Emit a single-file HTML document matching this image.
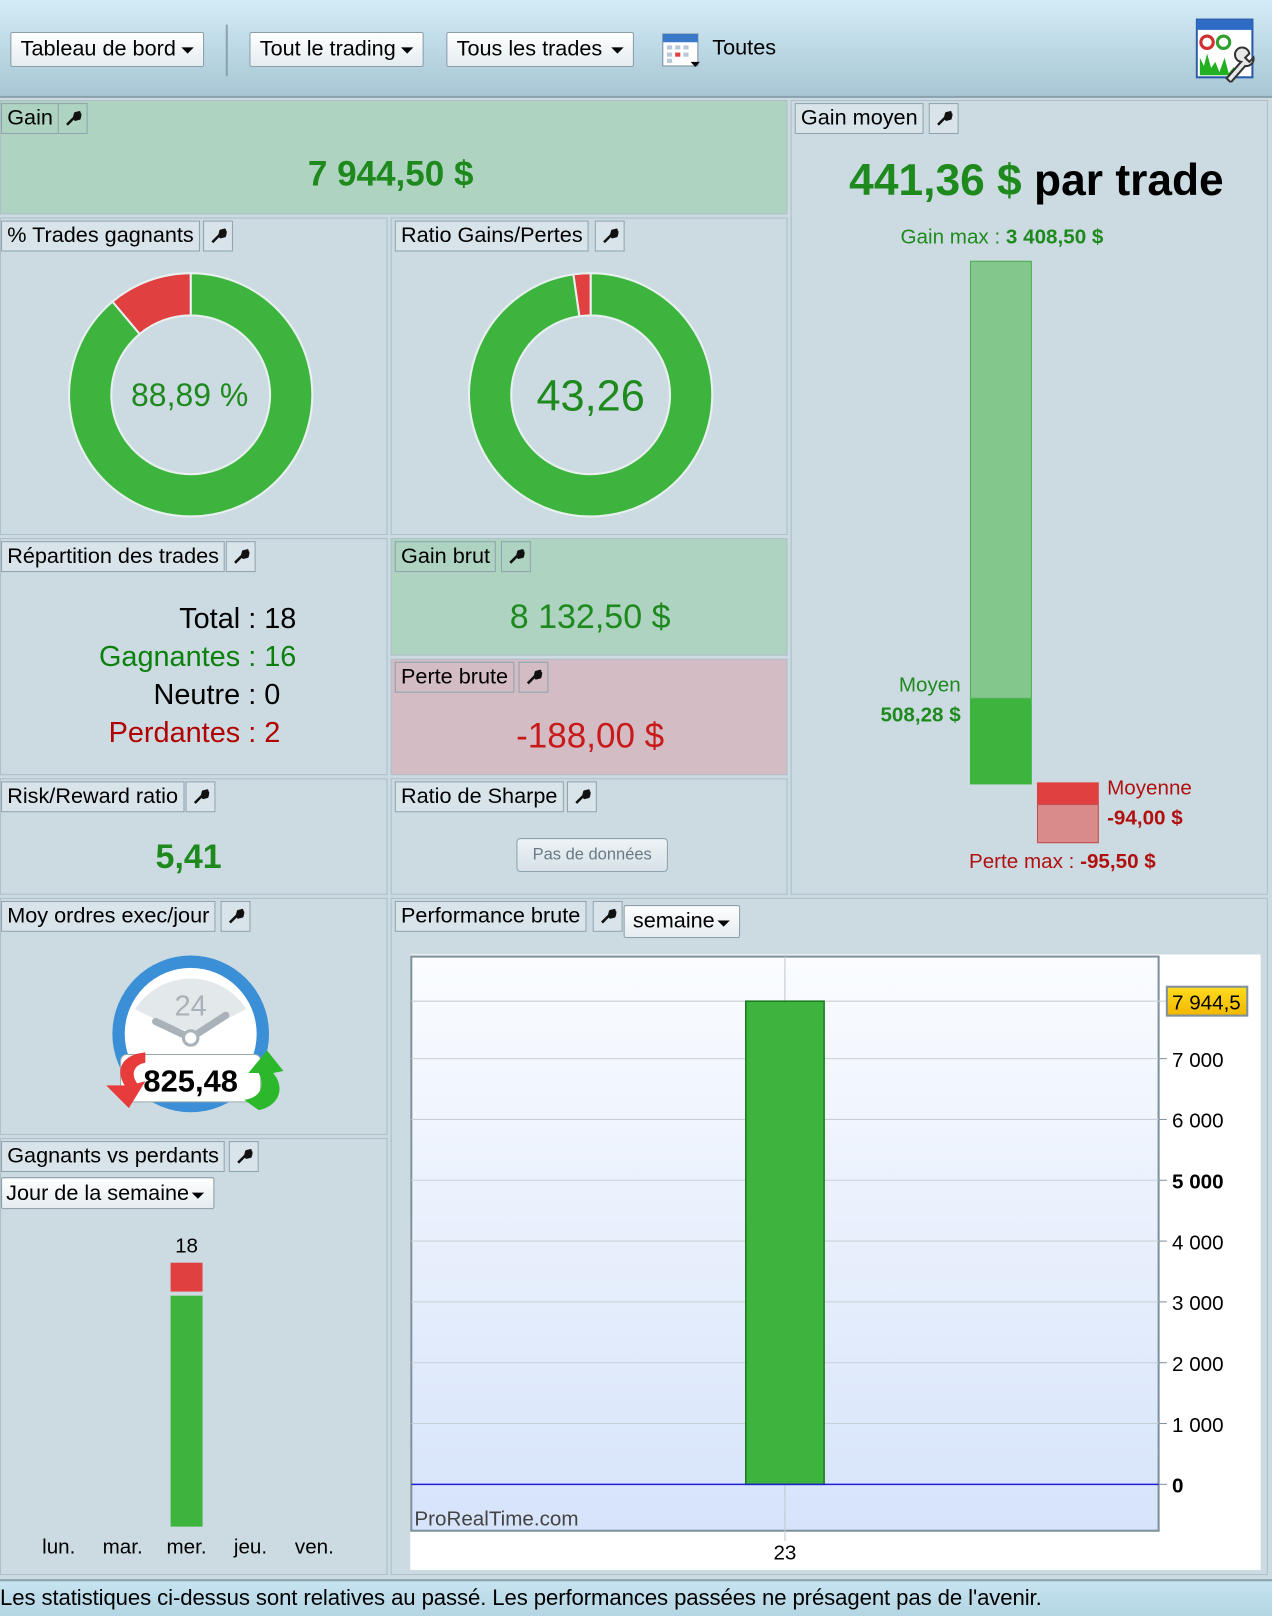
<!DOCTYPE html>
<html><head><meta charset="utf-8">
<style>
*{box-sizing:border-box;margin:0;padding:0}
body{width:1272px;height:1616px;overflow:hidden;background:#ccdbe2;font-family:"Liberation Sans",sans-serif}
#wrap{position:absolute;left:0;top:0;width:1234px;height:1568px;transform:scale(1.03079);transform-origin:0 0;background:#ccdbe2}
.abs{position:absolute}
.tb{position:absolute;left:0;top:0;width:1234px;height:95px;background:linear-gradient(#d3ecf7,#a8c6d4);border-bottom:2px solid #8aa2ae}
.btn{position:absolute;height:34px;border:1px solid #8c9ea8;background:linear-gradient(#fff,#e4ecf0);border-radius:2px;font-size:21px;line-height:32px;padding-left:9px;color:#000}
.btn:after{content:"";position:absolute;right:9px;top:14px;border-left:6px solid transparent;border-right:6px solid transparent;border-top:6px solid #000}
.panel{position:absolute;background:#ccdbe2;border:1px solid #aebfc9}
.lab{position:absolute;left:0;top:2px;height:30px;border:1px solid #8fa3ad;background:#d8e4ea;font-size:21px;line-height:28px;padding:0 5px;white-space:nowrap}
.wr{position:absolute;top:2px;width:29px;height:30px;border:1px solid #8fa3ad;background:#d8e4ea}
.wr svg{position:absolute;left:6px;top:6px}
.green .lab,.green .wr{background:#afd3c1}
.red .lab,.red .wr{background:#d3bcc3}
.c{position:absolute;text-align:center;white-space:nowrap}
.row{position:absolute;left:0;width:232px;text-align:right;white-space:nowrap;font-size:28px;line-height:37px}
.row span{position:absolute;left:232px;top:0}
</style></head><body>
<div id="wrap">
<div class="tb">
 <div class="btn" style="left:10px;top:31px;width:188px">Tableau de bord</div>
 <div class="abs" style="left:219px;top:24px;width:2px;height:50px;background:#8aa2ae"></div>
 <div class="btn" style="left:242px;top:31px;width:169px">Tout le trading</div>
 <div class="btn" style="left:433px;top:31px;width:182px">Tous les trades</div>
 <svg class="abs" style="left:642px;top:30px" width="40" height="38"><rect x="1" y="3" width="34" height="31" fill="#fff" stroke="#7a8ea0"/><rect x="1" y="3" width="34" height="8" fill="#3a78c8"/><g fill="#b8c8d8"><rect x="5" y="14" width="5" height="4"/><rect x="13" y="14" width="5" height="4"/><rect x="21" y="14" width="5" height="4"/><rect x="5" y="21" width="5" height="4"/><rect x="21" y="21" width="5" height="4"/><rect x="5" y="27" width="5" height="4"/></g><rect x="13" y="21" width="5" height="4" fill="#e04040"/><path d="M28 30h9l-4.5 5z" fill="#000"/></svg>
 <div class="abs" style="left:691px;top:35px;font-size:21px">Toutes</div>
 <svg class="abs" style="left:1160px;top:18px" width="60" height="62"><rect x="1" y="1" width="54" height="56" fill="#fff" stroke="#2a5aa8" stroke-width="2"/><rect x="1" y="1" width="54" height="10" fill="#2e6bc4"/><circle cx="11" cy="23" r="6" fill="none" stroke="#d03030" stroke-width="3"/><circle cx="27" cy="23" r="6" fill="none" stroke="#30a030" stroke-width="3"/><path d="M4 55V38l4 8 3-12 4 14 4-6 4 10 5-14 4 15 5-6 4 8v0z" fill="#20b020"/><path d="M30 58l14-16a7 7 0 1 1 8-8l-4 4 4 4 4-4a7 7 0 0 1-8 8L34 62z" fill="#e8e8e8" stroke="#333" stroke-width="2"/></svg>
</div>

<!-- Gain -->
<div class="panel green" style="left:0;top:97px;width:764px;height:111px;background:#afd3c1">
 <div class="lab">Gain</div><div class="wr" style="left:55px"></div>
 <div class="c" style="left:0;width:756px;top:52px;font-size:34px;font-weight:bold;color:#1e8a1e">7 944,50 $</div>
</div>

<!-- Gain moyen -->
<div class="panel" style="left:767px;top:97px;width:463px;height:771px">
 <div class="lab" style="left:3px">Gain moyen</div><div class="wr" style="left:133px"></div>
 <div class="c" style="left:0;width:475px;top:53px;font-size:43px;font-weight:bold"><span style="color:#1e8a1e">441,36 $</span> par trade</div>
 <div class="c" style="left:0;width:408px;top:121px;font-size:20px;color:#1e8a1e">Gain max : <b>3 408,50 $</b></div>
 <div class="abs" style="left:173px;top:155px;width:60px;height:425px;background:#84c78c;border:1px solid #4caf50"></div>
 <div class="abs" style="left:173px;top:580px;width:60px;height:83px;background:#3db43d"></div>
 <div class="abs" style="left:40px;top:553px;width:124px;text-align:right;font-size:20px;color:#1e8a1e;line-height:29px">Moyen<br><b>508,28 $</b></div>
 <div class="abs" style="left:238px;top:661px;width:60px;height:21px;background:#e04040"></div>
 <div class="abs" style="left:238px;top:682px;width:60px;height:38px;background:#d98b8b;border:1px solid #c05050"></div>
 <div class="abs" style="left:306px;top:653px;font-size:20px;color:#b01010;line-height:29px">Moyenne<br><b>-94,00 $</b></div>
 <div class="c" style="left:172px;top:727px;font-size:20px;color:#b01010">Perte max : <b>-95,50 $</b></div>
</div>

<!-- % trades gagnants -->
<div class="panel" style="left:0;top:211px;width:376px;height:308px">
 <div class="lab">% Trades gagnants</div><div class="wr" style="left:196px"></div>
 <svg id="d1" class="abs" style="left:0;top:0" width="376" height="308"></svg>
 <div class="c" style="left:0;width:366px;top:154px;font-size:31px;color:#1e8a1e">88,89 %</div>
</div>

<!-- Ratio -->
<div class="panel" style="left:379px;top:211px;width:385px;height:308px">
 <div class="lab" style="left:3px">Ratio Gains/Pertes</div><div class="wr" style="left:197px"></div>
 <svg id="d2" class="abs" style="left:0;top:0" width="385" height="308"></svg>
 <div class="c" style="left:0;width:386px;top:148px;font-size:42px;color:#1e8a1e">43,26</div>
</div>

<!-- Répartition -->
<div class="panel" style="left:0;top:522px;width:376px;height:230px">
 <div class="lab">Répartition des trades</div><div class="wr" style="left:218px"></div>
 <div class="row" style="top:58px">Total<span>&nbsp;:&nbsp;18</span></div>
 <div class="row" style="top:95px;color:#0c800c">Gagnantes<span>&nbsp;:&nbsp;16</span></div>
 <div class="row" style="top:132px">Neutre<span>&nbsp;:&nbsp;0</span></div>
 <div class="row" style="top:169px;color:#b00000">Perdantes<span>&nbsp;:&nbsp;2</span></div>
</div>

<div class="panel green" style="left:379px;top:522px;width:385px;height:114px;background:#afd3c1">
 <div class="lab" style="left:3px">Gain brut</div><div class="wr" style="left:106px"></div>
 <div class="c" style="left:0;width:385px;top:56px;font-size:33px;color:#1e8a1e">8 132,50 $</div>
</div>
<div class="panel red" style="left:379px;top:639px;width:385px;height:113px;background:#d3bcc3">
 <div class="lab" style="left:3px">Perte brute</div><div class="wr" style="left:123px"></div>
 <div class="c" style="left:0;width:385px;top:55px;font-size:34px;color:#c81a1a">-188,00 $</div>
</div>

<div class="panel" style="left:0;top:755px;width:376px;height:113px">
 <div class="lab">Risk/Reward ratio</div><div class="wr" style="left:179px"></div>
 <div class="c" style="left:0;width:364px;top:56px;font-size:33px;font-weight:bold;color:#1e8a1e">5,41</div>
</div>
<div class="panel" style="left:379px;top:755px;width:385px;height:113px">
 <div class="lab" style="left:3px">Ratio de Sharpe</div><div class="wr" style="left:170px"></div>
 <div class="abs" style="left:121px;top:57px;width:147px;height:33px;border:1px solid #8fa3ad;border-radius:4px;background:linear-gradient(#eef3f6,#d6e1e7);font-size:16px;color:#6a7a84;text-align:center;line-height:31px">Pas de données</div>
</div>

<!-- Moy ordres -->
<div class="panel" style="left:0;top:871px;width:376px;height:230px">
 <div class="lab">Moy ordres exec/jour</div><div class="wr" style="left:213px"></div>
 <svg class="abs" style="left:90px;top:55px" width="190" height="160">
  <circle cx="94" cy="76" r="76" fill="#3a8fd6"/><circle cx="94" cy="76" r="64" fill="#fff"/>
  <path d="M40 52 A64 64 0 0 1 148 52 L120 66 L94 74 L68 66z" fill="#e3e8ea"/>
  <text x="94" y="58" font-size="28" text-anchor="middle" fill="#a8b2b8" font-family="Liberation Sans">24</text>
  <path d="M60 64 L94 80 L128 58" stroke="#a8b2b8" stroke-width="7" fill="none" stroke-linecap="round"/>
  <circle cx="94" cy="80" r="7" fill="#fff" stroke="#a8b2b8" stroke-width="3"/>
  <rect x="26" y="96" width="136" height="46" rx="6" fill="#fff" stroke="#9aa" />
  <path d="M30 126 C20 110 28 96 50 94 L50 104 C38 106 36 116 42 124 L50 122 L34 148 L12 126z" fill="#e83c3c"/>
  <path d="M160 150 C180 146 186 128 174 114 L184 112 L168 92 L150 114 L160 114 C166 126 162 138 146 140z" fill="#2cb82c"/>
  <text x="94" y="132" font-size="30" font-weight="bold" text-anchor="middle" font-family="Liberation Sans">825,48</text>
 </svg>
</div>

<!-- Gagnants vs perdants -->
<div class="panel" style="left:0;top:1104px;width:376px;height:424px">
 <div class="lab">Gagnants vs perdants</div><div class="wr" style="left:221px"></div>
 <div class="btn" style="left:0;top:37px;width:207px;height:31px;line-height:29px;padding-left:4px">Jour de la semaine</div>
 <svg id="wl" class="abs" style="left:0;top:0" width="376" height="424"></svg>
</div>

<!-- Performance brute -->
<div class="panel" style="left:379px;top:871px;width:851px;height:657px">
 <div class="lab" style="left:3px">Performance brute</div><div class="wr" style="left:195px"></div>
 <div class="btn" style="left:225px;top:6px;width:113px;height:32px;line-height:30px;padding-left:8px">semaine</div>
 <div class="abs" style="left:18px;top:54px;width:825px;height:597px;background:#fff"></div>
</div>
<svg id="perf" class="abs" style="left:0;top:0" width="1234" height="1568">
 <defs><linearGradient id="bg" x1="0" y1="0" x2="0" y2="1"><stop offset="0" stop-color="#fafcff"/><stop offset="1" stop-color="#d6e3fa"/></linearGradient>
 <linearGradient id="yb" x1="0" y1="0" x2="0" y2="1"><stop offset="0" stop-color="#ffdc1e"/><stop offset="1" stop-color="#f0b800"/></linearGradient></defs>
</svg>

<div class="abs" style="left:0;top:1532px;width:1234px;height:36px;background:linear-gradient(#c6e3f0,#b4d5e4);border-top:2px solid #8aa2ae;font-size:21.5px;line-height:33px;white-space:nowrap;letter-spacing:-0.1px">Les statistiques ci-dessus sont relatives au passé. Les performances passées ne présagent pas de l'avenir.</div>
</div>

<script>
// donut data
const winRateParts=[88.89,11.11];
const ratioParts=[8132.5,188];
// weekday data
const days=['lun.','mar.','mer.','jeu.','ven.'];
const dayWinners=[0,0,16,0,0];
const dayLosers=[0,0,2,0,0];
// performance data
const weeks=['23'];
const weekValues=[7944.5];
const yTicks=[0,1000,2000,3000,4000,5000,6000,7000];
const yTickLabels=['0','1 000','2 000','3 000','4 000','5 000','6 000','7 000'];
const lastValueLabel='7 944,5';

const NS='http://www.w3.org/2000/svg';
function mk(p,t,a){const e=document.createElementNS(NS,t);for(const k in a)e.setAttribute(k,a[k]);p.appendChild(e);return e;}

// wrench icons
document.querySelectorAll('.wr').forEach(w=>{
 w.innerHTML='<svg width="16" height="16" viewBox="0 0 16 16"><path d="M2 14 L9 7 M9 7 L10 3 L14 2 L12 5 L13 6 L15 4 L14 8 L10 9z" stroke="#111" stroke-width="2.5" fill="#111" stroke-linejoin="round"/></svg>';
});

function arc(cx,cy,R,r,a0,a1){
 const p=(rr,a)=>[cx+rr*Math.sin(a),cy-rr*Math.cos(a)];const L=(a1-a0)>Math.PI?1:0;
 const A=p(R,a0),B=p(R,a1),C=p(r,a1),D=p(r,a0);
 return `M${A}A${R},${R} 0 ${L} 1 ${B}L${C}A${r},${r} 0 ${L} 0 ${D}Z`;}
function donut(id,parts,cx,cy,nm){const s=document.getElementById(id);const tot=parts.reduce((a,b)=>a+b,0);
 const cols=['#3db43d','#e04040'];let a=0;
 parts.forEach((v,i)=>{const a1=a+v/tot*2*Math.PI;const e=mk(s,'path',{d:arc(cx,cy,118,77,a,a1),fill:cols[i],stroke:'#e8f0f0','stroke-width':2});
  
  a=a1;});}
donut('d1',winRateParts,184,171,'win-rate');
donut('d2',ratioParts,193,171,'ratio');

// weekday chart
(function(){const s=document.getElementById('wl');const x0=56,dx=62,base=376,scale=224/16,w=31;
 days.forEach((d,i)=>{const cx=x0+i*dx;const t=mk(s,'text',{x:cx,y:402,'font-size':20,'text-anchor':'middle','font-family':'Liberation Sans'});t.textContent=d;
  
  
  const g=dayWinners[i],l=dayLosers[i];if(g+l===0)return;
  const gh=g*scale,lh=l*scale;
  const r1=mk(s,'rect',{x:cx-w/2,y:base-gh,width:w,height:gh,fill:'#3db43d'});
  
  
  const r2=mk(s,'rect',{x:cx-w/2,y:base-gh-4-lh,width:w,height:lh,fill:'#e04040'});
  
  
  const tt=mk(s,'text',{x:cx,y:base-gh-4-lh-10,'font-size':20,'text-anchor':'middle','font-family':'Liberation Sans'});tt.textContent=g+l;
  
  });})();

// performance chart
(function(){const s=document.getElementById('perf');const L=399,R=1124,T=928,B=1485;
 const y=v=>1440-v*0.059;const xc=i=>L+(R-L)*(i+0.5)/weeks.length;
 mk(s,'rect',{x:L,y:T,width:R-L,height:B-T,fill:'url(#bg)',stroke:'#7f919c','stroke-width':2});
 yTicks.forEach((v,i)=>{mk(s,'line',{x1:L,x2:R,y1:y(v),y2:y(v),stroke:'#c8d0d6'});
  mk(s,'line',{x1:R,x2:R+8,y1:y(v),y2:y(v),stroke:'#7f919c'});
  const t=mk(s,'text',{x:R+13,y:y(v)+8,'font-size':20,'font-family':'Liberation Sans','font-weight':(v===0||v===5000)?'bold':'normal'});t.textContent=yTickLabels[i];
  
  });
 const lv=weekValues[weekValues.length-1];
 mk(s,'line',{x1:L,x2:R+8,y1:y(lv),y2:y(lv),stroke:'#c8d0d6'});
 weeks.forEach((w,i)=>{mk(s,'line',{x1:xc(i),x2:xc(i),y1:T,y2:B+10,stroke:'#c0c8ce'});
  const v=weekValues[i];const r=mk(s,'rect',{x:xc(i)-38,y:Math.min(y(v),y(0)),width:76,height:Math.abs(y(0)-y(v)),fill:'#3db43d',stroke:'#1f7a1f','stroke-width':1.5});
  
  
  const t=mk(s,'text',{x:xc(i),y:1513,'font-size':20,'text-anchor':'middle','font-family':'Liberation Sans'});t.textContent=w;
  
  });
 mk(s,'line',{x1:L,x2:R,y1:y(0),y2:y(0),stroke:'#2020d0','stroke-width':1.5});
 const b=mk(s,'rect',{x:R+8,y:y(lv)-14,width:78,height:28,fill:'url(#yb)',stroke:'#7f919c','stroke-width':2});
 
 
 const bt=mk(s,'text',{x:R+13,y:y(lv)+8,'font-size':20,'font-family':'Liberation Sans'});bt.textContent=lastValueLabel;
 
 
 const wm=mk(s,'text',{x:402,y:1480,'font-size':20,'font-family':'Liberation Sans',fill:'#444'});wm.textContent='ProRealTime.com';
 
 })();
</script>
</body></html>
